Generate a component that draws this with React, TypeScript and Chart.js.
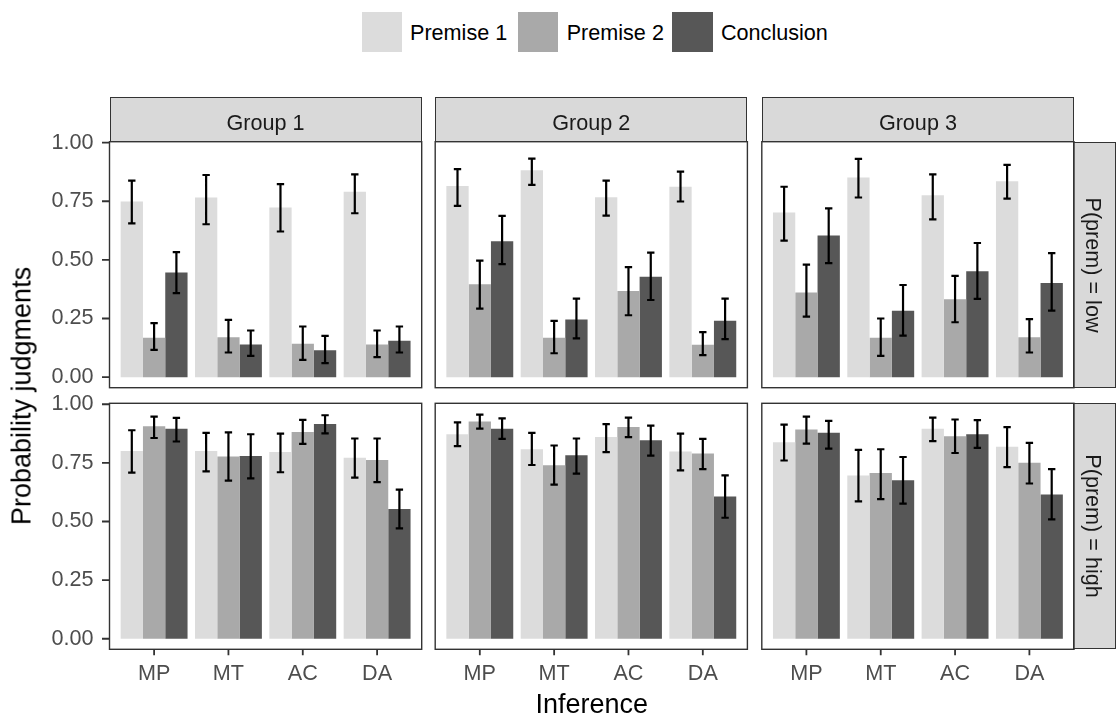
import React, { useEffect, useRef } from "react";
import { Chart, registerables } from "chart.js";

Chart.register(...registerables);

const inferences = ["MP", "MT", "AC", "DA"];
const seriesNames = ["Premise 1", "Premise 2", "Conclusion"];
const seriesColors = ["#dcdcdc", "#a9a9a9", "#575757"];
const groupNames = ["Group 1", "Group 2", "Group 3"];
const conditionNames = ["P(prem) = low", "P(prem) = high"];
const yTickValues = [0, 0.25, 0.5, 0.75, 1];

// Each array: [Premise 1, Premise 2, Conclusion] x [MP, MT, AC, DA]
const lowG1Mean = [[0.749, 0.766, 0.723, 0.791], [0.168, 0.17, 0.142, 0.139], [0.446, 0.139, 0.115, 0.155]];
const lowG1Lower = [[0.656, 0.652, 0.621, 0.699], [0.116, 0.105, 0.074, 0.085], [0.358, 0.091, 0.06, 0.105]];
const lowG1Upper = [[0.838, 0.862, 0.823, 0.865], [0.23, 0.244, 0.216, 0.199], [0.533, 0.199, 0.176, 0.216]];

const lowG2Mean = [[0.815, 0.882, 0.767, 0.812], [0.396, 0.168, 0.367, 0.138], [0.58, 0.246, 0.428, 0.241]];
const lowG2Lower = [[0.73, 0.82, 0.689, 0.749], [0.292, 0.102, 0.264, 0.094], [0.482, 0.165, 0.329, 0.162]];
const lowG2Upper = [[0.887, 0.932, 0.838, 0.876], [0.497, 0.24, 0.469, 0.192], [0.688, 0.335, 0.531, 0.335]];

const lowG3Mean = [[0.702, 0.851, 0.776, 0.835], [0.361, 0.168, 0.332, 0.17], [0.604, 0.283, 0.452, 0.401]];
const lowG3Lower = [[0.582, 0.766, 0.673, 0.761], [0.258, 0.091, 0.234, 0.105], [0.486, 0.177, 0.334, 0.284]];
const lowG3Upper = [[0.812, 0.931, 0.865, 0.905], [0.48, 0.25, 0.432, 0.247], [0.72, 0.393, 0.572, 0.529]];

const highG1Mean = [[0.801, 0.801, 0.796, 0.772], [0.906, 0.777, 0.882, 0.762], [0.895, 0.779, 0.916, 0.553]];
const highG1Lower = [[0.708, 0.714, 0.71, 0.687], [0.856, 0.674, 0.831, 0.668], [0.841, 0.684, 0.876, 0.471]];
const highG1Upper = [[0.889, 0.878, 0.875, 0.854], [0.947, 0.88, 0.933, 0.854], [0.942, 0.872, 0.953, 0.636]];

const highG2Mean = [[0.872, 0.808, 0.86, 0.798], [0.926, 0.74, 0.903, 0.79], [0.896, 0.782, 0.846, 0.607]];
const highG2Lower = [[0.821, 0.741, 0.796, 0.718], [0.896, 0.657, 0.86, 0.723], [0.852, 0.704, 0.781, 0.516]];
const highG2Upper = [[0.923, 0.878, 0.915, 0.875], [0.956, 0.824, 0.943, 0.852], [0.94, 0.854, 0.909, 0.697]];

const highG3Mean = [[0.838, 0.696, 0.896, 0.819], [0.892, 0.707, 0.863, 0.751], [0.878, 0.676, 0.872, 0.615]];
const highG3Lower = [[0.76, 0.586, 0.843, 0.732], [0.832, 0.595, 0.792, 0.662], [0.811, 0.576, 0.814, 0.509]];
const highG3Upper = [[0.913, 0.805, 0.943, 0.902], [0.947, 0.808, 0.935, 0.835], [0.929, 0.775, 0.932, 0.723]];

const panelMeans = [[lowG1Mean, lowG2Mean, lowG3Mean], [highG1Mean, highG2Mean, highG3Mean]];
const panelLower = [[lowG1Lower, lowG2Lower, lowG3Lower], [highG1Lower, highG2Lower, highG3Lower]];
const panelUpper = [[lowG1Upper, lowG2Upper, lowG3Upper], [highG1Upper, highG2Upper, highG3Upper]];

const FONT = "'Liberation Sans', Arial, Helvetica, sans-serif";
const SMALL = 21.6;
const BIG = 27;

const colLeft = [109.5, 435.2, 761.8];
const colWidth = 312.2;
const rowTop = [141.7, 403.3];
const rowHeight = 246;
const stripTop = 97.3;
const rightStripLeft = colLeft[2] + colWidth;
const rightStripWidth = 42;

const X_TICK_LEN = 6;
const Y_TICK_LEN = 7.5;

function makePanelPlugin(showX: boolean, showY: boolean) {
  return {
    id: "panelDecor",
    afterDatasetsDraw(chart: any) {
      const ctx = chart.ctx;
      const xs = chart.scales.x;
      const ys = chart.scales.y;
      const { left, top, right, bottom } = chart.chartArea;

      // error bars
      ctx.save();
      ctx.strokeStyle = "#000000";
      ctx.lineWidth = 2.2;
      ctx.beginPath();
      chart.data.datasets.forEach((ds: any, di: number) => {
        const meta = chart.getDatasetMeta(di);
        meta.data.forEach((bar: any, i: number) => {
          const lo = ys.getPixelForValue(ds.errLower[i]);
          const hi = ys.getPixelForValue(ds.errUpper[i]);
          const half = bar.width * 0.165;
          ctx.moveTo(bar.x, lo);
          ctx.lineTo(bar.x, hi);
          ctx.moveTo(bar.x - half, lo);
          ctx.lineTo(bar.x + half, lo);
          ctx.moveTo(bar.x - half, hi);
          ctx.lineTo(bar.x + half, hi);
        });
      });
      ctx.stroke();
      ctx.restore();

      // panel border and axis tick marks
      ctx.save();
      ctx.strokeStyle = "#333333";
      ctx.lineWidth = 1.4;
      ctx.strokeRect(left, top, right - left, bottom - top);
      ctx.lineWidth = 1.8;
      ctx.beginPath();
      if (showX) {
        for (let i = 0; i < inferences.length; i++) {
          const px = xs.getPixelForValue(i);
          ctx.moveTo(px, bottom);
          ctx.lineTo(px, bottom + X_TICK_LEN);
        }
      }
      if (showY) {
        for (const v of yTickValues) {
          const py = ys.getPixelForValue(v);
          ctx.moveTo(left - Y_TICK_LEN, py);
          ctx.lineTo(left, py);
        }
      }
      ctx.stroke();
      ctx.restore();
    },
  };
}

function Panel({ row, col }: { row: number; col: number }) {
  const ref = useRef<HTMLCanvasElement>(null);
  const pLeft = colLeft[col];
  const pRight = pLeft + colWidth;
  const pTop = rowTop[row];
  const pBottom = pTop + rowHeight;
  const showX = row === 1;
  const showY = col === 0;
  const cLeft = showY ? 0 : Math.floor(pLeft) - 20;
  const cRight = Math.ceil(pRight) + 20;
  const cTop = Math.floor(pTop) - 30;
  const cBottom = showX ? 717 : Math.ceil(pBottom) + 30;
  const w = cRight - cLeft;
  const h = cBottom - cTop;

  useEffect(() => {
    const means = panelMeans[row][col];
    const lows = panelLower[row][col];
    const highs = panelUpper[row][col];
    const chart = new Chart(ref.current as HTMLCanvasElement, {
      type: "bar",
      data: {
        datasets: seriesNames.map((name, s) => ({
          label: name,
          data: inferences.map((_, i) => ({ x: i, y: means[s][i] })),
          backgroundColor: seriesColors[s],
          borderWidth: 0,
          barPercentage: 1,
          categoryPercentage: 0.9,
          errLower: lows[s],
          errUpper: highs[s],
        })) as any,
      },
      options: {
        animation: false,
        responsive: false,
        maintainAspectRatio: false,
        devicePixelRatio: 1,
        layout: {
          padding: {
            left: showY ? 0 : pLeft - cLeft,
            right: cRight - pRight,
            top: pTop - cTop,
            bottom: showX ? 0 : cBottom - pBottom,
          },
        },
        plugins: {
          legend: { display: false },
          tooltip: { enabled: false },
        },
        scales: {
          x: {
            type: "linear",
            offset: false,
            min: -0.6,
            max: 3.6,
            display: showX,
            border: { display: false },
            grid: { display: false, offset: false, drawTicks: false },
            ticks: {
              padding: X_TICK_LEN + 5.5,
              color: "#4d4d4d",
              font: { family: FONT, size: SMALL },
              maxRotation: 0,
              autoSkip: false,
              callback: (v: any) => inferences[Math.round(Number(v))] ?? "",
            },
            afterBuildTicks: (axis: any) => {
              axis.ticks = inferences.map((_, i) => ({ value: i }));
            },
            afterFit: (axis: any) => {
              if (showX) axis.height = cBottom - pBottom;
            },
          } as any,
          y: {
            type: "linear",
            min: -0.045,
            max: 1.004,
            display: showY,
            border: { display: false },
            grid: { display: false, offset: false, drawTicks: false },
            ticks: {
              padding: Y_TICK_LEN + 8.5,
              color: "#4d4d4d",
              font: { family: FONT, size: SMALL },
              callback: (v: any) => Number(v).toFixed(2),
            },
            afterBuildTicks: (axis: any) => {
              axis.ticks = yTickValues.map((v) => ({ value: v }));
            },
            afterFit: (axis: any) => {
              if (showY) axis.width = pLeft - cLeft;
            },
          } as any,
        },
      },
      plugins: [makePanelPlugin(showX, showY)],
    });
    return () => chart.destroy();
  }, []);

  return (
    <canvas
      ref={ref}
      width={w}
      height={h}
      style={{ position: "absolute", left: cLeft, top: cTop, width: w, height: h, zIndex: 2 }}
    />
  );
}

function Text({
  children,
  left,
  baseline,
  size,
  color,
  width,
  align,
}: {
  children: React.ReactNode;
  left: number;
  baseline: number;
  size: number;
  color: string;
  width?: number;
  align?: "left" | "center";
}) {
  return (
    <div
      style={{
        position: "absolute",
        left,
        top: baseline - 0.8465 * size,
        width,
        textAlign: align ?? "left",
        fontFamily: FONT,
        fontSize: size,
        lineHeight: `${size}px`,
        color,
        whiteSpace: "nowrap",
        zIndex: 3,
      }}
    >
      {children}
    </div>
  );
}

function Rotated({
  children,
  cx,
  cy,
  size,
  color,
  angle,
}: {
  children: React.ReactNode;
  cx: number;
  cy: number;
  size: number;
  color: string;
  angle: number;
}) {
  return (
    <div
      style={{
        position: "absolute",
        left: cx,
        top: cy,
        transform: `translate(-50%, -50%) rotate(${angle}deg)`,
        fontFamily: FONT,
        fontSize: size,
        lineHeight: `${size}px`,
        color,
        whiteSpace: "nowrap",
        zIndex: 3,
      }}
    >
      {children}
    </div>
  );
}

const legendBoxLeft = [361.7, 517.7, 672.3];
const legendTextLeft = [410, 566.7, 721];

export default function App() {
  const stripStyle = (left: number, top: number, width: number, height: number): React.CSSProperties => ({
    position: "absolute",
    left,
    top,
    width,
    height,
    boxSizing: "border-box",
    background: "#d9d9d9",
    border: "1.3px solid #333333",
    zIndex: 1,
  });

  return (
    <div
      style={{
        position: "absolute",
        left: 0,
        top: 0,
        width: 1117,
        height: 717,
        background: "#ffffff",
        overflow: "hidden",
      }}
    >
      {seriesNames.map((name, s) => (
        <React.Fragment key={name}>
          <div
            style={{
              position: "absolute",
              left: legendBoxLeft[s],
              top: 11.7,
              width: 40.6,
              height: 40.6,
              background: seriesColors[s],
            }}
          />
          <Text left={legendTextLeft[s]} baseline={40} size={SMALL} color="#000000">
            {name}
          </Text>
        </React.Fragment>
      ))}

      {groupNames.map((g, c) => (
        <React.Fragment key={g}>
          <div style={stripStyle(colLeft[c], stripTop, colWidth, rowTop[0] - stripTop + 0.7)} />
          <Text left={colLeft[c]} width={colWidth} align="center" baseline={130.5} size={SMALL} color="#1a1a1a">
            {g}
          </Text>
        </React.Fragment>
      ))}

      {conditionNames.map((cond, r) => (
        <React.Fragment key={cond}>
          <div style={stripStyle(rightStripLeft - 0.7, rowTop[r], rightStripWidth + 0.7, rowHeight)} />
          <Rotated cx={rightStripLeft + 19} cy={rowTop[r] + rowHeight / 2} size={SMALL} color="#1a1a1a" angle={90}>
            {cond}
          </Rotated>
        </React.Fragment>
      ))}

      {[0, 1].map((r) =>
        [0, 1, 2].map((c) => <Panel key={`${r}-${c}`} row={r} col={c} />)
      )}

      <Text left={colLeft[0]} width={colLeft[2] + colWidth - colLeft[0]} align="center" baseline={714.3} size={BIG} color="#000000">
        Inference
      </Text>
      <Rotated cx={22} cy={(rowTop[0] + rowTop[1] + rowHeight) / 2} size={BIG} color="#000000" angle={-90}>
        Probability judgments
      </Rotated>
    </div>
  );
}
